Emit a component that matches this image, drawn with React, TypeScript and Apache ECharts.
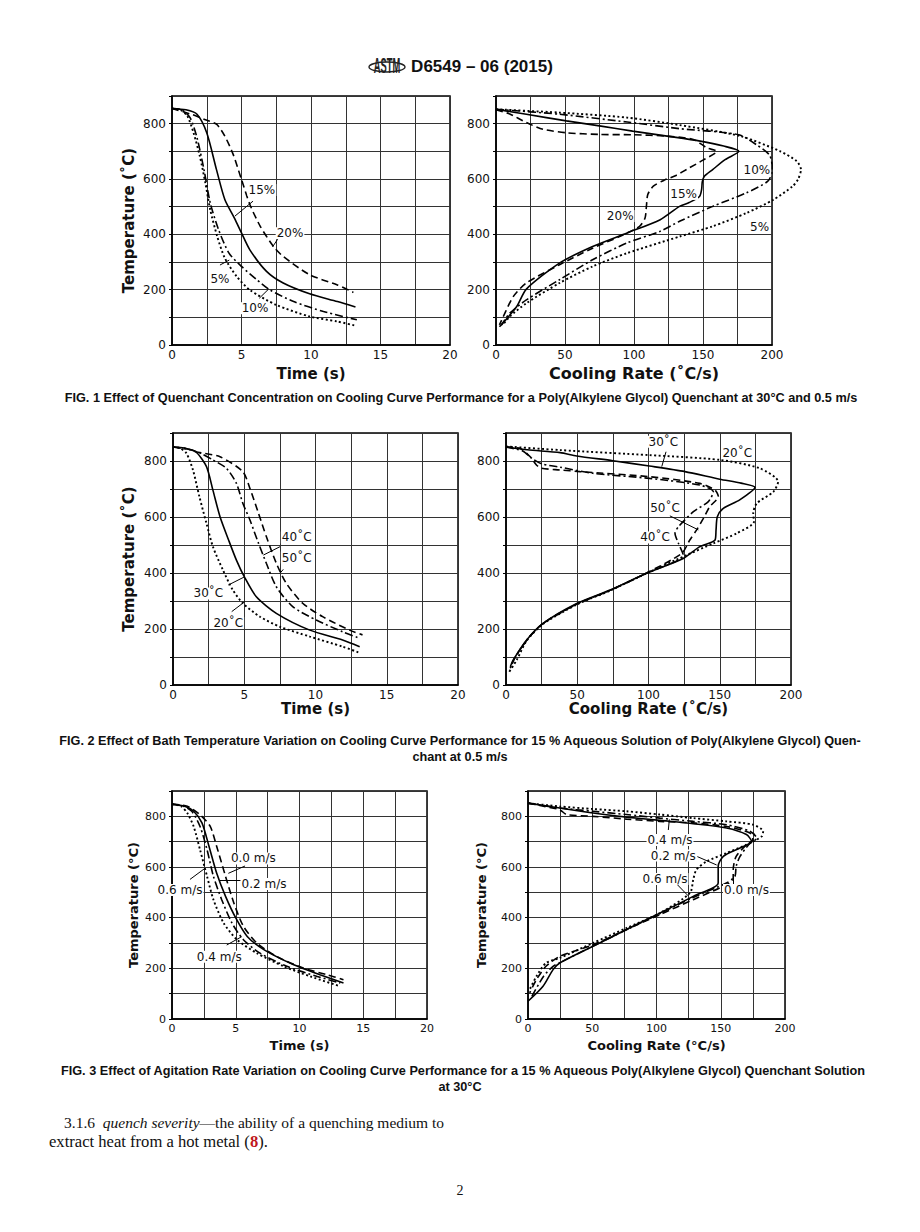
import React, { useEffect, useRef } from 'react';
import * as echarts from 'echarts';

// ---------- FIG. 1 : concentration ----------
const conc5Time = [[0,855],[0.6,850],[1.1,828],[1.55,767],[2.0,683],[2.4,586],[2.75,489],[3.25,393],[3.8,314],[4.65,248],[5.6,199],[7.5,145],[9.9,103],[11.9,85],[13.2,70]];
const conc10Time = [[0,855],[0.7,850],[1.3,822],[1.8,749],[2.3,634],[2.75,514],[3.35,417],[4.1,332],[5.0,284],[6.1,236],[7.05,199],[8.75,157],[10.9,121],[13.3,91]];
const conc15Time = [[0,855],[1.0,850],[1.8,834],[2.5,767],[3.2,634],[3.8,526],[4.5,458],[5.0,405],[5.6,344],[6.8,266],[8.0,224],[9.9,185],[11.9,157],[13.2,137]];
const conc20Time = [[0,855],[1.5,832],[2.3,816],[3.2,798],[3.8,755],[4.4,689],[5.0,598],[5.6,508],[6.35,429],[7.3,356],[8.0,320],[9.9,254],[11.9,217],[13.05,190]];

const conc5Rate = [[0,852],[46,840],[95,822],[133,795],[177,755],[206,700],[218,664],[221,634],[219,600],[215,574],[201,525],[181.5,477],[157,429],[133,392],[95,332],[70,284],[46,224],[22,151],[10,103],[5,73]];
const conc10Rate = [[0,852],[46,834],[95,806],[133,782],[176,760],[189,723],[198,688],[200,650],[200,628],[197,592],[181.5,550],[157,501],[133,447],[119,411],[95,369],[70,308],[46,236],[22,163],[10,115],[4,73]];
const conc15Rate = [[0,852],[22,834],[51,810],[75,792],[99,773],[124,755],[148,737],[165,719],[176,700],[166,670],[157,634],[151,610],[149.5,590],[149,562],[147.5,537],[140,515],[133,501],[119,453],[95,405],[70,356],[46,296],[22,202],[15,139],[5,79],[2.5,66]];
const conc20Rate = [[0,850],[10,835],[22,804],[34,780],[51,767],[75,761],[99,760],[124,755],[143,743],[153,712],[160,700],[150,668],[140,640],[130,612],[122,596],[114,574],[110,544],[109,502],[108,459],[104,429],[90,393],[70,350],[46,290],[22,224],[12.5,175],[5.3,103],[2.5,73]];

// ---------- FIG. 2 : bath temperature ----------
const bath20Time = [[0,850],[0.5,846],[0.95,827],[1.4,768],[1.85,673],[2.35,577],[2.8,494],[3.5,411],[4.2,339],[4.9,292],[6.1,244],[7.5,208],[9.6,173],[11.9,137],[13.1,115]];
const bath30Time = [[0,850],[0.8,846],[1.6,833],[2.35,780],[2.8,696],[3.3,601],[3.9,518],[4.45,446],[5.0,387],[5.85,315],[7.25,256],[9.6,196],[11.9,161],[13.1,137]];
const bath40Time = [[0,850],[1.0,843],[2.0,826],[2.8,804],[3.75,774],[4.45,720],[4.9,649],[5.4,589],[6.0,506],[6.55,435],[7.25,351],[8.4,280],[10.05,232],[11.9,190],[13.1,167]];
const bath50Time = [[0,850],[1.0,843],[1.6,833],[3.3,815],[4.9,762],[5.4,702],[6.0,613],[6.55,530],[7.25,435],[7.95,363],[9.1,292],[10.5,244],[12.4,196],[13.3,179]];

const bath20Rate = [[0,852],[38,839],[100.6,821],[150,804],[178,774],[191,726],[187.6,690],[176,649],[173.5,613],[174,583],[162,542],[145.5,506],[126.8,464],[99,400],[73,337],[50,288],[26,218],[14.5,158],[7.5,89],[2,45]];
const bath30Rate = [[0,850],[15,840],[38,830],[49.6,818],[75,801],[100.6,782],[125.6,762],[150,735],[165,721],[174.7,706],[164,661],[152.5,631],[148.3,601],[147.4,554],[146.7,518],[136,494],[124.4,452],[99,400],[73,339],[50,292],[26,220],[14.5,161],[5,89],[3,65]];
const bath40Rate = [[0,850],[12,835],[18,810],[25,790],[38,778],[61,756],[100.6,738],[136,714],[145.5,690],[142,655],[131.5,619],[121,565],[118.6,542],[121,506],[124.4,464],[99,400],[73,338],[50,290],[26,220],[15,163],[6,95],[3,60]];
const bath50Rate = [[0,850],[10,845],[17,815],[21.5,785],[25,774],[38,768],[52,762],[100.6,744],[136,720],[146.7,696],[149,673],[143,637],[138.5,595],[133.8,554],[129,518],[123.3,470],[99,401],[73,338],[50,290],[26,220],[15,163],[6,95],[3,60]];

// ---------- FIG. 3 : agitation ----------
const agit00Time = [[0,848],[1.2,840],[2.2,806],[3.0,760],[3.5,682],[4.2,563],[4.85,458],[5.6,366],[6.65,300],[8.2,247],[10.3,201],[12.15,175],[13.45,155]];
const agit02Time = [[0,848],[1.0,840],[1.7,820],[2.35,774],[2.9,682],[3.5,576],[4.2,484],[5.0,399],[5.9,326],[7.2,274],[9.55,214],[11.6,175],[13.45,142]];
const agit04Time = [[0,848],[0.9,840],[1.55,820],[2.2,760],[2.75,668],[3.25,563],[3.9,471],[4.7,379],[5.6,313],[6.9,260],[9.0,208],[11.4,168],[13.2,142]];
const agit06Time = [[0,848],[0.7,840],[1.2,813],[1.7,760],[2.2,668],[2.75,563],[3.25,471],[4.05,379],[5.1,313],[6.65,260],[8.75,208],[10.85,168],[13.2,129]];

const agit00Rate = [[0,852],[12,840],[24.7,826],[30,807],[50.6,800],[76.6,789],[102.6,780],[128.6,774],[154.5,760],[172.7,734],[175,708],[170,688],[162,642],[159.7,589],[159.7,550],[152,524],[128.6,471],[102.6,412],[76.6,353],[50.6,293],[24.7,247],[14,208],[6.5,155],[1.3,103]];
const agit02Rate = [[0,852],[24.7,833],[50.6,813],[76.6,797],[102.6,784],[128.6,771],[154.5,754],[170,728],[174,701],[165,675],[152,642],[148,603],[148,537],[128.6,484],[102.6,418],[76.6,353],[50.6,287],[24.7,221],[19.5,195],[11.7,129],[0,70]];
const agit04Rate = [[0,852],[24.7,833],[50.6,820],[76.6,807],[102.6,793],[128.6,780],[154.5,767],[172.7,741],[178,714],[172,690],[165,642],[162,603],[161,563],[154.5,537],[128.6,480],[102.6,416],[76.6,352],[50.6,288],[24.7,222],[19.5,208],[12,168],[3,89]];
const agit06Rate = [[0,852],[24.7,839],[50.6,829],[76.6,820],[102.6,807],[128.6,793],[154.5,780],[175,767],[183,741],[182,721],[170,688],[154.5,655],[139,622],[131,589],[128.6,550],[126,497],[102.6,418],[76.6,359],[50.6,300],[24.7,241],[14,221],[6.5,168],[1.3,116]];

// ---------- annotations (data coordinates) ----------
const labels = [
  [{ t: '15%', at: [6.47, 560] }, { t: '20%', at: [8.49, 404] }, { t: '5%', at: [3.45, 237] }, { t: '10%', at: [5.97, 133] }],
  [{ t: '10%', at: [189, 632] }, { t: '15%', at: [136, 546] }, { t: '20%', at: [90, 466] }, { t: '5%', at: [191, 426] }],
  [{ t: '40˚C', at: [8.68, 527] }, { t: '50˚C', at: [8.68, 455] }, { t: '30˚C', at: [2.48, 327] }, { t: '20˚C', at: [3.88, 222] }],
  [{ t: '30˚C', at: [110.4, 869] }, { t: '20˚C', at: [162.3, 830] }, { t: '50˚C', at: [111.6, 631] }, { t: '40˚C', at: [104.6, 527] }],
  [{ t: '0.0 m/s', at: [6.38, 634] }, { t: '0.2 m/s', at: [7.22, 533] }, { t: '0.6 m/s', at: [0.63, 509] }, { t: '0.4 m/s', at: [3.71, 246] }],
  [{ t: '0.4 m/s', at: [110.5, 707] }, { t: '0.2 m/s', at: [113, 645] }, { t: '0.6 m/s', at: [106.6, 553] }, { t: '0.0 m/s', at: [170, 509] }],
];
const leaders = [
  [[[4.53, 466], [5.83, 520]], [[7.24, 355], [7.65, 386]], [[3.45, 289], [4.12, 307]], [[6.28, 169], [6.93, 201]]],
  [],
  [[[6.34, 464], [7.51, 494]], [[7.51, 399], [7.74, 413]], [[3.88, 357], [5.05, 387]], [[4.12, 262], [5.05, 298]]],
  [[[112.3, 833], [109.3, 780]], [[115, 604], [135, 554]]],
  [[[4.42, 575], [5.73, 604]], [[3.76, 546], [5.39, 546]], [[1.41, 551], [2.59, 595]], [[4.29, 292], [5.47, 325]]],
  [[[109.2, 746], [110, 788]], [[131.8, 641], [146.8, 608]], [[115.7, 533], [124.7, 486]], [[159.8, 559], [159.8, 520]]],
];

const FONT = 'DejaVu Sans, Verdana, sans-serif';
const STYLE: Record<string, any> = {
  solid: { type: 'solid', width: 1.6 },
  dashed: { type: [7, 4], width: 1.6 },
  dotted: { type: [2, 2.5], width: 1.9 },
  dashdot: { type: [8, 3, 2, 3], width: 1.6 },
};

const panels = [
  { grid: { left: 172, top: 96, width: 278, height: 249 }, kind: 'time', big: true, yName: 'Temperature (˚C)', xName: 'Time (s)', xFs: 15, yGap: 36, xGap: 21, overflow: false,
    series: [[conc5Time, 'dotted'], [conc10Time, 'dashdot'], [conc15Time, 'solid'], [conc20Time, 'dashed']] },
  { grid: { left: 496, top: 96, width: 276, height: 249 }, kind: 'rate', big: true, yName: '', xName: 'Cooling Rate (˚C/s)', xFs: 16, yGap: 36, xGap: 20, overflow: true,
    series: [[conc5Rate, 'dotted'], [conc10Rate, 'dashdot'], [conc15Rate, 'solid'], [conc20Rate, 'dashed']] },
  { grid: { left: 173, top: 433, width: 285, height: 252 }, kind: 'time', big: true, yName: 'Temperature (˚C)', xName: 'Time (s)', xFs: 15, yGap: 37, xGap: 16, overflow: false,
    series: [[bath20Time, 'dotted'], [bath30Time, 'solid'], [bath40Time, 'dashdot'], [bath50Time, 'dashed']] },
  { grid: { left: 506, top: 433, width: 285, height: 252 }, kind: 'rate', big: true, yName: '', xName: 'Cooling Rate (˚C/s)', xFs: 15, yGap: 36, xGap: 16, overflow: false,
    series: [[bath20Rate, 'dotted'], [bath30Rate, 'solid'], [bath40Rate, 'dashdot'], [bath50Rate, 'dashed']] },
  { grid: { left: 172, top: 791, width: 255, height: 228 }, kind: 'time', big: false, yName: 'Temperature (°C)', xName: 'Time (s)', xFs: 13, yGap: 32, xGap: 20, overflow: false,
    series: [[agit00Time, 'dashed'], [agit02Time, 'solid'], [agit04Time, 'dashdot'], [agit06Time, 'dotted']] },
  { grid: { left: 528, top: 791, width: 257, height: 228 }, kind: 'rate', big: false, yName: 'Temperature (°C)', xName: 'Cooling Rate (°C/s)', xFs: 13, yGap: 40, xGap: 20, overflow: false,
    series: [[agit00Rate, 'dashed'], [agit02Rate, 'solid'], [agit04Rate, 'dashdot'], [agit06Rate, 'dotted']] },
];

function buildOption() {
  const grid: any[] = [];
  const xAxis: any[] = [];
  const yAxis: any[] = [];
  const series: any[] = [];
  const overlay: any[] = [];
  panels.forEach((p, i) => {
    grid.push({ ...p.grid, show: true, borderColor: '#000', borderWidth: 1.5, backgroundColor: '#fff', containLabel: false });
    const isTime = p.kind === 'time';
    const xMax = isTime ? 20 : 200;
    const tickFs = p.big ? 12 : 11;
    const nameFs = p.big ? 15 : 13;
    xAxis.push({
      type: 'value', gridIndex: i, min: 0, max: xMax, interval: isTime ? 2.5 : 25,
      axisLine: { show: true, lineStyle: { color: '#000', width: 1.5 } },
      axisTick: { show: false },
      splitLine: { show: true, lineStyle: { color: '#333', width: 1 } },
      axisLabel: { margin: 4, color: '#111', fontSize: tickFs, fontFamily: FONT,
        formatter: (v: number) => (isTime ? (v % 5 === 0 ? String(v) : '') : (v % 50 === 0 ? String(v) : '')) },
      name: p.xName, nameLocation: 'middle', nameGap: p.xGap,
      nameTextStyle: { fontWeight: 'bold', fontSize: p.xFs, color: '#111', fontFamily: FONT, verticalAlign: 'top' },
    });
    yAxis.push({
      type: 'value', gridIndex: i, min: 0, max: 900, interval: 100,
      axisLine: { show: true, lineStyle: { color: '#000', width: 1.5 } },
      axisTick: { show: true, length: 3, inside: false, lineStyle: { color: '#000' } },
      splitLine: { show: true, lineStyle: { color: '#333', width: 1 } },
      axisLabel: { margin: 6, color: '#111', fontSize: tickFs, fontFamily: FONT,
        formatter: (v: number) => (v % 200 === 0 && v <= 800 ? String(v) : '') },
      name: p.yName, nameLocation: 'middle', nameGap: p.yGap, nameRotate: 90,
      nameTextStyle: { fontWeight: 'bold', fontSize: nameFs, color: '#111', fontFamily: FONT },
    });
    let dataAxis = i;
    if (p.overflow) {
      // invisible twin grid with the same scale but a wider extent, so curves may run past the frame
      overlay.push({ grid: { ...p.grid, width: p.grid.width * 1.2, show: false }, xMax: xMax * 1.2 });
      dataAxis = -overlay.length;
    }
    p.series.forEach(([data, st]: any) => {
      series.push({
        type: 'line', _axis: dataAxis, data, showSymbol: false, symbol: 'none',
        smooth: 0.25, clip: false, silent: true, z: 3,
        lineStyle: { color: '#000', cap: 'butt', ...STYLE[st] },
      });
    });
    if (leaders[i].length) {
      series.push({
        type: 'lines', coordinateSystem: 'cartesian2d', xAxisIndex: i, yAxisIndex: i, silent: true, z: 4,
        lineStyle: { color: '#000', width: 1, opacity: 1, curveness: 0 },
        data: leaders[i].map((c) => ({ coords: c })),
      });
    }
  });
  overlay.forEach((o) => {
    const gi = grid.length;
    grid.push(o.grid);
    xAxis.push({ type: 'value', gridIndex: gi, min: 0, max: o.xMax, show: false, splitLine: { show: false } });
    yAxis.push({ type: 'value', gridIndex: gi, min: 0, max: 900, show: false, splitLine: { show: false } });
    o.index = gi;
  });
  series.forEach((s) => {
    if (s._axis !== undefined) {
      const idx = s._axis >= 0 ? s._axis : overlay[-1 - s._axis].index;
      s.xAxisIndex = idx;
      s.yAxisIndex = idx;
      delete s._axis;
    }
  });

  return {
    animation: false,
    backgroundColor: '#fff',
    textStyle: { fontFamily: FONT },
    grid, xAxis, yAxis, series,
  };
}

function pageGraphics() {
  const cap = 'bold 12.7px "Liberation Sans", Arial, sans-serif';
  const serif = '"Liberation Serif", "Times New Roman", serif';
  return [
    { type: 'ellipse', shape: { cx: 387, cy: 67, rx: 18, ry: 5 }, style: { fill: 'none', stroke: '#222', lineWidth: 1.4 } },
    { type: 'text', x: 387, y: 66, scaleX: 0.85, scaleY: 2.0, style: { text: 'ASTM', font: 'bold 11px "Liberation Sans", Arial', fill: '#222', align: 'center', verticalAlign: 'middle' } },
    { type: 'text', x: 482, y: 66, style: { text: 'D6549 – 06 (2015)', font: 'bold 17px "Liberation Sans", Arial, sans-serif', fill: '#111', align: 'center', verticalAlign: 'middle' } },
    { type: 'text', x: 461, y: 398, style: { text: 'FIG. 1 Effect of Quenchant Concentration on Cooling Curve Performance for a Poly(Alkylene Glycol) Quenchant at 30°C and 0.5 m/s', font: cap, fill: '#111', align: 'center', verticalAlign: 'middle' } },
    { type: 'text', x: 460, y: 741, style: { text: 'FIG. 2 Effect of Bath Temperature Variation on Cooling Curve Performance for 15 % Aqueous Solution of Poly(Alkylene Glycol) Quen-', font: cap, fill: '#111', align: 'center', verticalAlign: 'middle' } },
    { type: 'text', x: 460, y: 757, style: { text: 'chant at 0.5 m/s', font: cap, fill: '#111', align: 'center', verticalAlign: 'middle' } },
    { type: 'text', x: 463, y: 1071, style: { text: 'FIG. 3 Effect of Agitation Rate Variation on Cooling Curve Performance for a 15 % Aqueous Poly(Alkylene Glycol) Quenchant Solution', font: cap, fill: '#111', align: 'center', verticalAlign: 'middle' } },
    { type: 'text', x: 460, y: 1087, style: { text: 'at 30°C', font: cap, fill: '#111', align: 'center', verticalAlign: 'middle' } },
    { type: 'text', x: 64, y: 1122, style: {
      text: '3.1.6  {i|quench severity}—the ability of a quenching medium to',
      font: '15.5px ' + serif, fill: '#111', align: 'left', verticalAlign: 'middle',
      rich: { i: { fontStyle: 'italic', fontSize: 15.5, fontFamily: serif, fill: '#111' } } } },
    { type: 'text', x: 49, y: 1141, style: {
      text: 'extract heat from a hot metal ({r|8}).',
      font: '16.6px ' + serif, fill: '#111', align: 'left', verticalAlign: 'middle',
      rich: { r: { fontWeight: 'bold', fontSize: 16.6, fontFamily: serif, fill: '#c0171d' } } } },
    { type: 'text', x: 460, y: 1190, style: { text: '2', font: '14px ' + serif, fill: '#111', align: 'center', verticalAlign: 'middle' } },
  ];
}

export default function App() {
  const ref = useRef<HTMLDivElement>(null);
  useEffect(() => {
    if (!ref.current) return;
    const chart = echarts.init(ref.current, null, { renderer: 'svg' });
    chart.setOption(buildOption() as any);
    // curve labels placed through each panel's own axes
    const labelEls: any[] = [];
    labels.forEach((arr, i) => {
      arr.forEach((l) => {
        const pt = chart.convertToPixel({ gridIndex: i } as any, l.at) as any;
        if (!pt) return;
        labelEls.push({
          type: 'text', x: pt[0], y: pt[1], z: 10,
          style: { text: l.t, font: '12px ' + FONT, fill: '#111', align: 'center', verticalAlign: 'middle', backgroundColor: '#fff', padding: [0, 1] },
        });
      });
    });
    chart.setOption({ graphic: [...pageGraphics(), ...labelEls] } as any);
    return () => chart.dispose();
  }, []);
  return <div ref={ref} style={{ position: 'absolute', left: 0, top: 0, width: 920, height: 1232, background: '#fff' }} />;
}
